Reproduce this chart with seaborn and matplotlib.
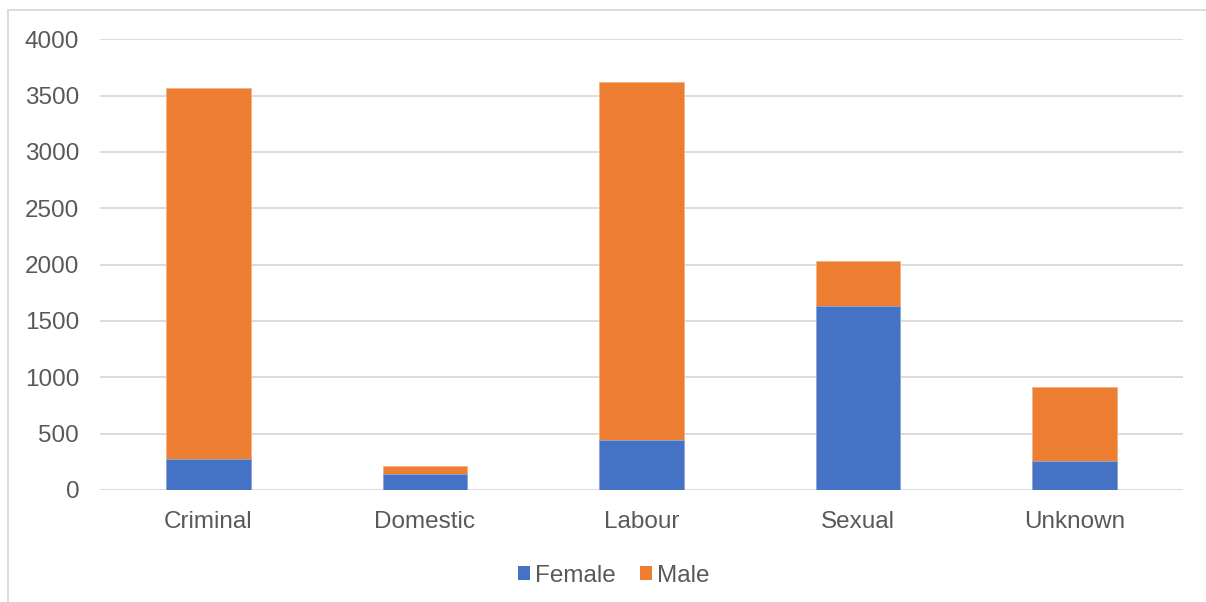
import matplotlib
matplotlib.use("Agg")
import matplotlib.pyplot as plt
import seaborn as sns
import pandas as pd
from matplotlib.lines import Line2D
from matplotlib.patches import Patch

categories = ["Criminal", "Domestic", "Labour", "Sexual", "Unknown"]
female = [272, 139, 441, 1636, 255]
male_total = [3565, 213, 3621, 2032, 914]  # stacked top (female + male)
male = [t - f for t, f in zip(male_total, female)]
yticks = [0, 500, 1000, 1500, 2000, 2500, 3000, 3500, 4000]

sns.set_theme(style="white")
plt.rcParams['font.family'] = ['Liberation Sans', 'DejaVu Sans']

W, H = 1206, 602
fig = plt.figure(figsize=(W / 100, H / 100), dpi=100)
ax = fig.add_axes([100 / W, 1 - 490 / H, 1083 / W, (490 - 39.3) / H])

df = pd.DataFrame({"cat": categories, "female": female, "total": [f + m for f, m in zip(female, male)]})
blue = "#4472C4"
orange = "#ED7D31"

for y in yticks:
    ax.axhline(y, color="#d9d9d9", lw=1.3, zorder=0)

sns.barplot(data=df, x="cat", y="total", color=orange, width=0.39, ax=ax,
            edgecolor="#f4b083", linewidth=0.6, saturation=1, zorder=2)
sns.barplot(data=df, x="cat", y="female", color=blue, width=0.39, ax=ax,
            edgecolor="#8faadc", linewidth=0.6, saturation=1, zorder=3)

ax.set_xlim(-0.5, 4.5)
ax.set_ylim(0, 4000)
ax.set_yticks(yticks)
ax.set_yticklabels([str(v) for v in yticks])
ax.set_xlabel("")
ax.set_ylabel("")
for s in ax.spines.values():
    s.set_visible(False)
ax.tick_params(axis="both", length=0, labelsize=17.5, colors="#595959")
ax.tick_params(axis="y", pad=15)
ax.tick_params(axis="x", pad=15)

handles = [Patch(facecolor=blue, edgecolor="none"), Patch(facecolor=orange, edgecolor="none")]
fig.legend(handles, ["Female", "Male"], loc="center", bbox_to_anchor=(614 / W, 1 - 576 / H),
           ncol=2, frameon=False, fontsize=17.5, labelcolor="#595959",
           handlelength=0.5, handleheight=0.5, handletextpad=0.2, columnspacing=1.0)

# outer chart border (top and left visible)
fig.add_artist(Line2D([7.5 / W, 1], [1 - 9.5 / H, 1 - 9.5 / H], color="#d9d9d9", lw=1.3, transform=fig.transFigure))
fig.add_artist(Line2D([7.5 / W, 7.5 / W], [0, 1 - 9.5 / H], color="#d9d9d9", lw=1.3, transform=fig.transFigure))

fig.savefig("out.png", dpi=100, facecolor="white")
